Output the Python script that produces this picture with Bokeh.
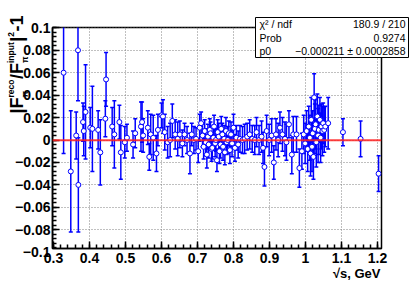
import math
from bokeh.plotting import figure
from bokeh.models import (ColumnDataSource, Range1d, FixedTicker, CustomJSTickFormatter,
                          Span, Label, BoxAnnotation, GridBox)
from bokeh.embed import file_html
from bokeh.resources import INLINE

# ---------------- data ----------------
sqrt_s = [0.328, 0.348, 0.363, 0.368, 0.369, 0.382, 0.384, 0.389, 0.402, 0.408,
          0.424, 0.430, 0.444, 0.446, 0.463, 0.469, 0.483, 0.487, 0.498, 0.504,
          0.521, 0.527, 0.543, 0.546, 0.549, 0.562, 0.566, 0.570, 0.577, 0.586,
          0.590, 0.600, 0.604, 0.609, 0.617, 0.624, 0.630, 0.638, 0.645, 0.651,
          0.658, 0.664, 0.671, 0.679, 0.684, 0.690, 0.696, 0.702, 0.706, 0.710,
          0.714, 0.717, 0.720, 0.723, 0.726, 0.729, 0.731, 0.734, 0.736, 0.739,
          0.741, 0.744, 0.746, 0.749, 0.751, 0.754, 0.756, 0.759, 0.761, 0.764,
          0.766, 0.769, 0.771, 0.774, 0.776, 0.779, 0.781, 0.784, 0.787, 0.790,
          0.793, 0.796, 0.800, 0.804, 0.808, 0.813, 0.818, 0.825, 0.831, 0.838,
          0.845, 0.852, 0.859, 0.864, 0.871, 0.878, 0.882, 0.886, 0.892, 0.899,
          0.906, 0.912, 0.918, 0.924, 0.929, 0.936, 0.943, 0.947, 0.954, 0.962,
          0.966, 0.975, 0.983, 0.990, 0.995, 0.999, 1.003, 1.006, 1.009, 1.012,
          1.014, 1.016, 1.018, 1.020, 1.022, 1.024, 1.026, 1.028, 1.030, 1.033,
          1.035, 1.037, 1.040, 1.042, 1.044, 1.047, 1.049, 1.052, 1.055, 1.063,
          1.104, 1.153, 1.203]
delta = [0.060, -0.028, 0.004, 0.080, -0.040, 0.016, 0.008, 0.025, 0.011, 0.010,
         0.009, -0.011, 0.019, 0.054, 0.012, 0.005, 0.016, -0.011, -0.002, 0.002,
         -0.004, 0.006, 0.012, 0.016, 0.004, 0.011, -0.015, 0.005, 0.002, -0.012,
         0.009, 0.022, 0.021, 0.007, -0.002, 0.000, 0.017, 0.005, 0.001, 0.005,
         -0.003, 0.005, 0.000, -0.012, 0.005, 0.000, 0.001, -0.010, 0.011, 0.015,
         0.004, -0.006, 0.008, -0.002, -0.013, 0.003, -0.004, 0.009, 0.006, -0.008,
         -0.007, 0.002, 0.012, -0.003, 0.000, -0.018, 0.007, 0.003, -0.010, -0.004,
         0.010, 0.005, -0.006, 0.001, -0.011, 0.008, -0.002, 0.000, 0.006, -0.009,
         0.005, -0.003, 0.011, -0.007, 0.002, -0.004, 0.001, 0.000, 0.001, 0.003,
         0.005, 0.001, 0.000, 0.007, 0.000, 0.003, -0.007, -0.024, 0.008, 0.000,
         0.004, -0.020, 0.005, 0.000, 0.011, 0.005, 0.001, -0.002, 0.014, -0.013,
         0.005, 0.005, -0.025, -0.010, 0.005, -0.003, 0.008, -0.008, 0.012, 0.002,
         -0.012, 0.018, -0.006, 0.006, -0.015, 0.038, 0.010, 0.014, -0.002, 0.021,
         0.004, 0.009, 0.018, 0.002, 0.012, 0.008, 0.015, 0.009, 0.012, 0.015,
         0.007, 0.001, -0.030]
delta_err = [0.072, 0.054, 0.021, 0.045, 0.042, 0.017, 0.022, 0.042, 0.018, 0.038,
             0.017, 0.029, 0.016, 0.024, 0.017, 0.030, 0.015, 0.024, 0.014, 0.012,
             0.012, 0.013, 0.022, 0.018, 0.015, 0.015, 0.012, 0.018, 0.020, 0.016,
             0.014, 0.011, 0.015, 0.016, 0.014, 0.015, 0.015, 0.013, 0.015, 0.012,
             0.012, 0.010, 0.012, 0.018, 0.010, 0.012, 0.010, 0.010, 0.012, 0.010,
             0.010, 0.011, 0.010, 0.012, 0.012, 0.011, 0.012, 0.010, 0.010, 0.011,
             0.010, 0.011, 0.010, 0.012, 0.010, 0.010, 0.011, 0.012, 0.011, 0.012,
             0.011, 0.010, 0.012, 0.012, 0.011, 0.012, 0.011, 0.012, 0.011, 0.012,
             0.011, 0.012, 0.012, 0.012, 0.011, 0.012, 0.012, 0.012, 0.013, 0.012,
             0.013, 0.012, 0.013, 0.013, 0.013, 0.014, 0.014, 0.017, 0.014, 0.014,
             0.015, 0.015, 0.014, 0.015, 0.014, 0.015, 0.015, 0.016, 0.012, 0.017,
             0.016, 0.016, 0.017, 0.016, 0.017, 0.018, 0.018, 0.020, 0.018, 0.020,
             0.020, 0.020, 0.022, 0.020, 0.020, 0.021, 0.022, 0.022, 0.022, 0.020,
             0.024, 0.022, 0.020, 0.022, 0.020, 0.022, 0.018, 0.020, 0.018, 0.023,
             0.012, 0.016, 0.016]

x_ticks = [0.3, 0.4, 0.5, 0.6, 0.7, 0.8, 0.9, 1.0, 1.1, 1.2]
x_tick_labels = ["0.3", "0.4", "0.5", "0.6", "0.7", "0.8", "0.9", "1", "1.1", "1.2"]
y_ticks = [-0.1, -0.08, -0.06, -0.04, -0.02, 0.0, 0.02, 0.04, 0.06, 0.08, 0.1]
y_tick_labels = ["\u22120.1", "\u22120.08", "\u22120.06", "\u22120.04", "\u22120.02", "0",
                 "0.02", "0.04", "0.06", "0.08", "0.1"]
fit_p0 = -0.000211
stats_names = ["\u03c7\u00b2 / ndf", "Prob", "p0"]
stats_values = ["180.9 / 210", "0.9274", "\u22120.000211 \u00b1 0.0002858"]
x_title = "\u221as, GeV"

# ---------------- layout ----------------
W, H = 410, 280
FL, FR, FT, FB = 52, 381, 27, 248          # frame edges in page pixels
XMIN, XMAX = 0.2972, 1.2111
YMIN, YMAX = -0.0967, 0.1003
FONT = "Liberation Sans"
TICK_FS = "14px"

p = figure(width=W, height=H, x_range=Range1d(XMIN, XMAX), y_range=Range1d(YMIN, YMAX),
           min_border_left=FL, min_border_right=W - FR,
           min_border_top=FT, min_border_bottom=H - FB,
           output_backend="svg", toolbar_location=None)
p.background_fill_color = "white"
p.border_fill_color = "white"
p.outline_line_color = "black"
p.outline_line_width = 1.5

xminor = [round(0.3 + 0.02 * i, 4) for i in range(0, 47)]
yminor = [round(-0.1 + 0.004 * i, 4) for i in range(0, 51)]
p.xaxis.ticker = FixedTicker(ticks=x_ticks, minor_ticks=xminor)
p.yaxis.ticker = FixedTicker(ticks=y_ticks, minor_ticks=yminor)
fmt_code = """
for (let i = 0; i < tv.length; i++) { if (Math.abs(tick - tv[i]) < 1e-6) return tl[i]; }
return "";"""
p.xaxis.formatter = CustomJSTickFormatter(args=dict(tv=x_ticks, tl=x_tick_labels), code=fmt_code)
p.yaxis.formatter = CustomJSTickFormatter(args=dict(tv=y_ticks, tl=y_tick_labels), code=fmt_code)

for ax in (p.xaxis[0], p.yaxis[0]):
    ax.axis_line_color = "black"
    ax.axis_line_width = 1.5
    ax.major_tick_in = 7
    ax.major_tick_out = 0
    ax.minor_tick_in = 4
    ax.minor_tick_out = 0
    ax.major_tick_line_width = 1.5
    ax.minor_tick_line_width = 1.5
    ax.major_label_text_font = FONT
    ax.major_label_text_font_style = "bold"
    ax.major_label_text_font_size = TICK_FS
    ax.major_label_text_color = "black"
p.xaxis.major_label_standoff = 4
p.yaxis.major_label_standoff = 2

for g in (p.xgrid[0], p.ygrid[0]):
    g.grid_line_color = "#808080"
    g.grid_line_dash = "1 2"
    g.grid_line_width = 1

# ---------------- data marks ----------------
upper = [v + e for v, e in zip(delta, delta_err)]
lower = [v - e for v, e in zip(delta, delta_err)]
src = ColumnDataSource(dict(x=sqrt_s, y=delta, up=upper, lo=lower))

p.segment(x0="x", y0="lo", x1="x", y1="up", source=src, line_color="#0000ff", line_width=1.5)
p.scatter(x="x", y="up", source=src, marker="dash", size=4, line_color="#0000ff", line_width=1.5)
p.scatter(x="x", y="lo", source=src, marker="dash", size=4, line_color="#0000ff", line_width=1.5)
p.scatter(x="x", y="y", source=src, marker="circle", size=5, line_color="#0000ff",
          fill_color="white", line_width=1)

p.add_layout(Span(location=fit_p0, dimension="width", line_color="#ff2020",
                  line_width=2, line_alpha=0.85))

# ---------------- overlay (pixel coordinates, y measured upward) for texts outside the frame ----------------
o = figure(width=W, height=H, x_range=Range1d(0, W), y_range=Range1d(0, H),
           min_border_left=0, min_border_right=0, min_border_top=0, min_border_bottom=0,
           x_axis_location=None, y_axis_location=None,
           output_backend="svg", toolbar_location=None)
o.background_fill_color = None
o.border_fill_color = None
o.outline_line_color = None
o.grid.visible = False
for fig in (p, o):
    if "frame_align" in fig.properties():
        fig.frame_align = False


def Y(page_y):
    """page pixel row (from top) -> overlay coordinate (from bottom)"""
    return H - page_y


def py_of(yv):
    return FT + (YMAX - yv) / (YMAX - YMIN) * (FB - FT)


# tick label that lies just below the y range (as in the reference)
for t, lab in zip(y_ticks, y_tick_labels):
    if t < YMIN:
        o.add_layout(Label(x=FL - 2, y=Y(py_of(t)), text=lab, text_align="right",
                           text_baseline="middle", text_font=FONT, text_font_style="bold",
                           text_font_size=TICK_FS, text_color="black"))

o.add_layout(Label(x=380, y=Y(273), text=x_title, text_align="right",
                   text_baseline="alphabetic", text_font=FONT, text_font_style="bold",
                   text_font_size="13px", text_color="black"))

widths = {'|': 280, 'F': 611, 'r': 389, 'e': 556, 'c': 556, 'o': 611, '/': 278,
          'i': 278, 'n': 611, 'p': 611, 'u': 611, 't': 333, '2': 556, '-': 333,
          '1': 556, '\u03c0': 560}


def tw(s, size):
    return sum(widths.get(ch, 556) for ch in s) * size / 1000.0


MAIN, SCRIPT = 18, 8.5
MAIN_X, SUP_X, SUB_X = 16, 10.5, 24.5      # centre lines of the rotated text rows
pieces = [("main", "|F", None), ("ss", "reco", "\u03c0"), ("main", "/F", None),
          ("ss", "input", "\u03c0"), ("main", "|", None), ("ss", "2", None),
          ("main", "-1", None)]


def vlabel(x, page_y, text, size):
    o.add_layout(Label(x=x, y=Y(page_y), text=text, angle=math.pi / 2,
                       text_align="left", text_baseline="middle", text_font=FONT,
                       text_font_style="bold", text_font_size=f"{size}px",
                       text_color="black"))


cur = 113.0
for kind, a, b in pieces:
    if kind == "main":
        vlabel(MAIN_X, cur, a, MAIN)
        cur -= tw(a, MAIN)
    else:
        vlabel(SUP_X, cur, a, SCRIPT)
        length = tw(a, SCRIPT)
        if b:
            vlabel(SUB_X, cur, b, SCRIPT)
            length = max(length, tw(b, SCRIPT))
        cur -= length + 0.5

# stats box
BL, BR, BT, BB = 255, 408, 17, 57
o.add_layout(BoxAnnotation(left=BL, right=BR, top=Y(BT), bottom=Y(BB),
                           fill_color="white", fill_alpha=1.0, line_color="black",
                           line_width=1, line_alpha=1.0))
n = len(stats_names)
for i, (nm, vl) in enumerate(zip(stats_names, stats_values)):
    yc = BT + (BB - BT) * (2 * i + 1) / (2 * n)
    o.add_layout(Label(x=BL + 4, y=Y(yc), text=nm, text_align="left",
                       text_baseline="middle", text_font=FONT, text_font_size="10.5px",
                       text_color="black"))
    o.add_layout(Label(x=BR - 3, y=Y(yc), text=vl, text_align="right",
                       text_baseline="middle", text_font=FONT, text_font_size="10.5px",
                       text_color="black"))

layout = GridBox(children=[(p, 0, 0), (o, 0, 0)])
open("out.html", "w").write(file_html(layout, INLINE))
